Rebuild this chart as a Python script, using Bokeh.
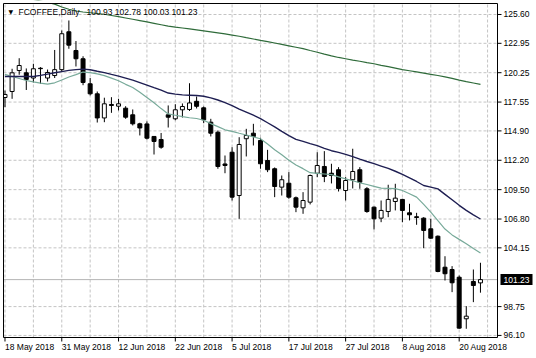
import math
from bokeh.plotting import figure
from bokeh.models import ColumnDataSource, Range1d
from bokeh.core.properties import value
from bokeh.embed import file_html
from bokeh.resources import INLINE

# ---------------- data ----------------
symbol_title = "FCOFFEE,Daily"
date_labels = ["18 May 2018", "31 May 2018", "12 Jun 2018", "22 Jun 2018", "5 Jul 2018",
               "17 Jul 2018", "27 Jul 2018", "8 Aug 2018", "20 Aug 2018"]
date_label_bars = [0, 8, 16, 24, 32, 40, 48, 56, 64]
y_ticks = [96.10, 98.75, 104.15, 106.80, 109.50, 112.20, 114.90, 117.55, 120.25, 122.95, 125.60]

opens = [117.97, 118.52, 120.45, 120.24, 119.76, 120.66, 119.76, 119.99, 120.53, 124.01,
         122.29, 121.53, 119.23, 118.31, 116.09, 117.33, 117.17, 116.99, 116.38, 115.55,
         115.54, 114.39, 114.11, 116.38, 116.01, 116.84, 116.87, 117.62, 117.02, 115.70,
         114.78, 111.86, 112.94, 108.96, 114.18, 114.69, 114.02, 112.18, 111.42, 109.73,
         110.09, 108.75, 107.83, 108.35, 111.01, 111.63, 111.01, 111.33, 109.42, 110.41,
         111.33, 109.58, 107.89, 106.88, 107.49, 108.41, 108.60, 107.37, 107.01, 106.88,
         105.90, 105.22, 102.37, 102.16, 101.45, 97.63, 101.06, 100.93]
highs = [118.61, 120.61, 121.58, 120.64, 121.07, 120.76, 120.54, 122.34, 124.13, 125.05,
         123.16, 121.76, 119.76, 118.52, 117.95, 118.00, 117.85, 117.17, 116.87, 115.65,
         115.77, 114.41, 114.71, 117.24, 117.35, 117.42, 119.28, 118.06, 117.14, 116.01,
         114.94, 112.64, 113.40, 114.32, 115.09, 115.55, 114.27, 113.16, 111.54, 110.80,
         111.11, 108.87, 109.27, 110.89, 112.94, 113.04, 111.88, 111.57, 110.65, 113.26,
         111.57, 109.73, 107.95, 108.50, 109.95, 110.04, 108.66, 108.20, 107.37, 106.97,
         106.82, 105.29, 103.38, 102.47, 101.61, 98.79, 102.16, 102.78]
lows = [117.08, 117.85, 120.06, 118.66, 119.35, 119.23, 119.44, 119.76, 120.38, 122.45,
        120.82, 119.10, 118.16, 115.67, 115.70, 116.56, 116.78, 116.01, 115.40, 114.48,
        114.11, 112.73, 113.26, 115.21, 115.88, 116.13, 116.73, 116.96, 115.61, 114.39,
        111.42, 111.01, 108.50, 106.82, 112.55, 113.56, 111.42, 111.11, 108.81, 108.96,
        108.66, 107.43, 107.28, 108.14, 110.65, 110.19, 110.07, 109.33, 108.50, 109.61,
        109.58, 107.37, 105.84, 106.51, 106.97, 107.59, 106.51, 106.67, 106.27, 104.12,
        104.98, 101.91, 101.15, 100.08, 96.71, 96.71, 99.16, 100.03]
closes = [118.25, 120.24, 120.91, 119.63, 120.61, 120.62, 120.27, 120.53, 123.83, 122.78,
          121.53, 119.35, 118.31, 116.09, 117.39, 117.24, 117.39, 116.16, 115.55, 115.17,
          114.23, 113.93, 113.40, 116.16, 116.84, 117.14, 117.47, 117.16, 115.92, 114.69,
          111.63, 111.72, 108.81, 113.65, 114.48, 114.39, 111.88, 111.33, 109.79, 110.41,
          108.81, 107.89, 108.50, 110.80, 111.72, 110.71, 110.80, 109.61, 110.34, 111.17,
          110.19, 107.49, 106.82, 107.59, 108.60, 108.72, 107.59, 107.19, 106.94, 105.75,
          105.04, 101.98, 101.77, 100.94, 96.77, 97.87, 100.69, 101.23]

ma_fast = [120.09, 119.90, 119.72, 119.53, 119.40, 119.29, 119.20, 119.32, 119.58, 119.85,
           120.07, 120.31, 120.25, 120.14, 119.98, 119.75, 119.51, 119.18, 118.89, 118.46,
           117.97, 117.48, 116.95, 116.46, 116.34, 116.21, 116.11, 116.04, 115.88, 115.57,
           115.29, 115.00, 114.85, 114.68, 114.52, 114.35, 114.18, 113.69, 113.17, 112.70,
           112.21, 111.77, 111.43, 111.06, 110.99, 110.94, 110.88, 110.68, 110.49, 110.32,
           110.13, 109.97, 109.80, 109.64, 109.62, 109.59, 109.42, 109.13, 108.81, 108.14,
           107.43, 106.65, 105.88, 105.34, 104.93, 104.53, 104.09, 103.68]
ma_mid = [119.90, 119.90, 119.90, 119.90, 119.90, 120.00, 120.12, 120.24, 120.35, 120.46,
          120.53, 120.58, 120.52, 120.38, 120.26, 120.09, 119.94, 119.75, 119.56, 119.34,
          119.11, 118.87, 118.64, 118.38, 118.28, 118.21, 118.18, 118.15, 118.08, 117.93,
          117.74, 117.49, 117.23, 116.91, 116.63, 116.34, 116.03, 115.65, 115.27, 114.86,
          114.47, 114.12, 113.93, 113.73, 113.54, 113.30, 113.08, 112.93, 112.74, 112.53,
          112.30, 112.09, 111.89, 111.67, 111.45, 111.19, 110.90, 110.59, 110.25, 109.88,
          109.73, 109.57, 109.07, 108.57, 108.06, 107.59, 107.19, 106.80]
ma_slow = [127.81, 127.53, 127.35, 127.16, 126.98, 126.84, 126.70, 126.55, 126.29, 126.08,
           125.92, 125.83, 125.76, 125.69, 125.62, 125.51, 125.40, 125.28, 125.16, 125.04,
           124.92, 124.79, 124.66, 124.53, 124.44, 124.36, 124.28, 124.19, 124.10, 124.01,
           123.91, 123.81, 123.71, 123.60, 123.47, 123.35, 123.22, 123.10, 122.98, 122.85,
           122.72, 122.59, 122.46, 122.29, 122.13, 121.96, 121.80, 121.65, 121.53, 121.41,
           121.30, 121.18, 121.07, 120.93, 120.80, 120.67, 120.54, 120.43, 120.32, 120.21,
           120.10, 119.99, 119.87, 119.73, 119.57, 119.43, 119.30, 119.17]

# ---------------- layout ----------------
W, H = 536, 358
FL, FR, FT, FB = 3, 497, 3, 337          # inner chart frame, page pixels
X0, X1 = -0.211, 69.40                   # bar-index range of inner frame
Y_BOT, Y_TOP = 95.91, 126.61             # price range of inner frame
PX = (FR - FL) / (X1 - X0)
PY = (FB - FT) / (Y_TOP - Y_BOT)


def xd(px):
    return X0 + (px - FL) / PX


def yd(py):
    return Y_TOP - (py - FT) / PY


FONT = "Liberation Sans"
FS = "8.5px"
TXT = dict(text_font=value(FONT), text_font_size=value(FS))

p = figure(width=W, height=H, x_range=Range1d(xd(0), xd(W)), y_range=Range1d(yd(H), yd(0)),
           output_backend="svg", toolbar_location=None, title=None,
           x_axis_location=None, y_axis_location=None,
           min_border=0, min_border_left=0, min_border_right=0,
           min_border_top=0, min_border_bottom=0,
           background_fill_color="white", border_fill_color="white",
           outline_line_color=None)
p.xgrid.visible = False
p.ygrid.visible = False

GRID = "#c4c4c4"
n = len(closes)
idx = list(range(n))

# grid lines
vgrid = list(range(0, n + 1, 4))
p.segment(x0=vgrid, y0=[Y_BOT] * len(vgrid), x1=vgrid, y1=[Y_TOP] * len(vgrid),
          line_color=GRID, line_dash="3 2", line_width=1)
p.segment(x0=[X0] * len(y_ticks), y0=y_ticks, x1=[X1] * len(y_ticks), y1=y_ticks,
          line_color=GRID, line_dash="3 2", line_width=1)
# current price line
p.segment(x0=[X0], y0=[closes[-1]], x1=[X1], y1=[closes[-1]], line_color="#b4b4b4", line_width=1)

# candles
bull = [c >= o for o, c in zip(opens, closes)]
src = ColumnDataSource(dict(
    x=idx, high=highs, low=lows,
    top=[max(o, c) for o, c in zip(opens, closes)],
    bottom=[min(o, c) for o, c in zip(opens, closes)],
    fill=["#ffffff" if b else "#000000" for b in bull],
))
p.segment(x0="x", y0="low", x1="x", y1="high", source=src, line_color="#000000", line_width=1)
p.vbar(x="x", top="top", bottom="bottom", width=0.56, source=src,
       fill_color="fill", line_color="#000000", line_width=1)

# moving averages
p.line(idx, ma_slow, line_color="#2f6b3a", line_width=1.2)
p.line(idx, ma_fast, line_color="#78aa9a", line_width=1.2)
p.line(idx, ma_mid, line_color="#1e1e52", line_width=1.4)

# white margins (clip everything to the inner frame)
p.quad(left=[xd(0), xd(0), xd(FR), xd(0)], right=[xd(FL), xd(W), xd(W), xd(W)],
       bottom=[yd(H), yd(FT), yd(H), yd(H)], top=[yd(0), yd(0), yd(0), yd(FB)],
       fill_color="white", line_color=None)

# frame border
p.quad(left=[X0], right=[X1], bottom=[Y_BOT], top=[Y_TOP], fill_color=None,
       line_color="#000000", line_width=1)

# right price axis: ticks + labels
p.segment(x0=[X1] * len(y_ticks), y0=y_ticks, x1=[xd(FR + 4)] * len(y_ticks), y1=y_ticks,
          line_color="#000000", line_width=1)
p.text(x=[xd(FR + 6)] * len(y_ticks), y=y_ticks, text=[f"{v:.2f}" for v in y_ticks],
       text_align="left", text_baseline="middle", text_color="#000000", **TXT)

# bottom date axis: ticks + labels (left aligned at the tick)
p.segment(x0=date_label_bars, y0=[Y_BOT] * len(date_label_bars), x1=date_label_bars,
          y1=[yd(FB + 4)] * len(date_label_bars), line_color="#000000", line_width=1)
p.text(x=date_label_bars, y=[yd(346)] * len(date_label_bars), text=date_labels,
       text_align="left", text_baseline="middle", text_color="#000000", **TXT)

# current price box
box_half = 5.5 / PY
p.quad(left=[xd(FR + 3)], right=[xd(FR + 35)], bottom=[closes[-1] - box_half],
       top=[closes[-1] + box_half], fill_color="#000000", line_color=None)
p.text(x=[xd(FR + 6)], y=[closes[-1]], text=[f"{closes[-1]:.2f}"], text_align="left",
       text_baseline="middle", text_color="#ffffff", **TXT)

# title
p.text(x=[xd(8)], y=[yd(11)], text=["\u25bc"], text_align="left", text_baseline="middle",
       text_color="#000000", text_font=value("DejaVu Sans"), text_font_size=value("6px"))
p.text(x=[xd(18)], y=[yd(11)], text=[symbol_title], text_align="left", text_baseline="middle",
       text_color="#000000", **TXT)
ohlc_text = " ".join(f"{v:.2f}" for v in (opens[-1], highs[-1], lows[-1], closes[-1]))
p.text(x=[xd(86)], y=[yd(11)], text=[ohlc_text], text_align="left", text_baseline="middle",
       text_color="#000000", **TXT)

open("out.html", "w").write(file_html(p, INLINE))
